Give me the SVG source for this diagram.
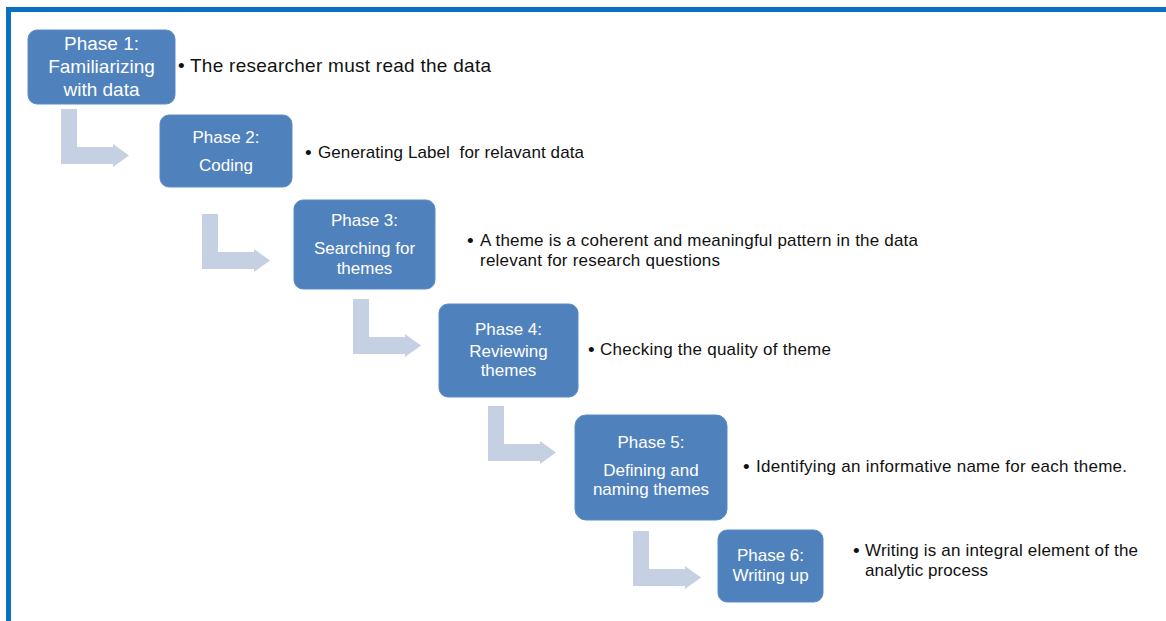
<svg xmlns="http://www.w3.org/2000/svg" width="1166" height="621" viewBox="0 0 1166 621">
  <style>
    .box { fill: #4f81bd; stroke: #5b8cc6; stroke-width: 1; }
    .boxtxt { font-family: "Liberation Sans", Arial, sans-serif; font-size: 17px; fill: #ffffff; text-anchor: middle; }
    .big { font-size: 19px; }
    .note { font-family: "Liberation Sans", Arial, sans-serif; font-size: 17px; fill: #111111; white-space: pre; }
    .note1 { font-size: 19px; }
    .dot { font-family: "Liberation Sans", Arial, sans-serif; font-size: 19px; fill: #111111; }
    .arrow { fill: #c6d0e3; }
  </style>
  <defs>
    <!-- L-shaped step arrow: down, then right -->
    <path id="step" d="M0,0 H16 V38 H52 V35 L68,46.5 L52,58 V55 H0 Z"/>
  </defs>

  <rect x="0" y="0" width="1166" height="621" fill="#ffffff"/>

  <!-- frame -->
  <g id="frame" fill="#0a70c0">
    <rect x="6" y="7" width="1160" height="5"/>
    <rect x="6" y="7" width="5" height="614"/>
  </g>

  <!-- connectors -->
  <g id="connectors" class="arrow">
    <use href="#step" x="61" y="109"/>
    <use href="#step" x="202" y="214"/>
    <use href="#step" x="353" y="299"/>
    <use href="#step" x="488" y="406"/>
    <use href="#step" x="633" y="531"/>
  </g>

  <!-- phase 1 -->
  <g id="phase1">
    <rect class="box" x="28" y="30" width="147" height="74" rx="9"/>
    <text class="boxtxt big" x="101.5" y="50">Phase 1:</text>
    <text class="boxtxt big" x="101.5" y="73">Familiarizing</text>
    <text class="boxtxt big" x="101.5" y="96">with data</text>
    <text class="dot" x="178" y="72">•</text>
    <text class="note note1" x="190" y="72" textLength="301">The researcher must read the data</text>
  </g>

  <!-- phase 2 -->
  <g id="phase2">
    <rect class="box" x="160" y="115" width="132" height="72" rx="9"/>
    <text class="boxtxt" x="226" y="143">Phase 2:</text>
    <text class="boxtxt" x="226" y="171">Coding</text>
    <text class="dot" x="305" y="159">•</text>
    <text class="note" x="318" y="158" textLength="266">Generating Label  for relavant data</text>
  </g>

  <!-- phase 3 -->
  <g id="phase3">
    <rect class="box" x="294" y="200" width="141" height="89" rx="9"/>
    <text class="boxtxt" x="364.5" y="226">Phase 3:</text>
    <text class="boxtxt" x="364.5" y="254">Searching for</text>
    <text class="boxtxt" x="364.5" y="274">themes</text>
    <text class="dot" x="467" y="247">•</text>
    <text class="note" x="480" y="246" textLength="438">A theme is a coherent and meaningful pattern in the data</text>
    <text class="note" x="480" y="266" textLength="240">relevant for research questions</text>
  </g>

  <!-- phase 4 -->
  <g id="phase4">
    <rect class="box" x="439" y="304" width="139" height="93" rx="9"/>
    <text class="boxtxt" x="508.5" y="335">Phase 4:</text>
    <text class="boxtxt" x="508.5" y="357">Reviewing</text>
    <text class="boxtxt" x="508.5" y="376">themes</text>
    <text class="dot" x="588" y="356">•</text>
    <text class="note" x="600" y="355" textLength="231">Checking the quality of theme</text>
  </g>

  <!-- phase 5 -->
  <g id="phase5">
    <rect class="box" x="575" y="415" width="152" height="105" rx="11"/>
    <text class="boxtxt" x="651" y="448">Phase 5:</text>
    <text class="boxtxt" x="651" y="476">Defining and</text>
    <text class="boxtxt" x="651" y="495">naming themes</text>
    <text class="dot" x="743" y="473">•</text>
    <text class="note" x="756" y="472" textLength="371">Identifying an informative name for each theme.</text>
  </g>

  <!-- phase 6 -->
  <g id="phase6">
    <rect class="box" x="718" y="530" width="105" height="72" rx="9"/>
    <text class="boxtxt" x="770.5" y="561">Phase 6:</text>
    <text class="boxtxt" x="770.5" y="581">Writing up</text>
    <text class="dot" x="853" y="557">•</text>
    <text class="note" x="865" y="556" textLength="273">Writing is an integral element of the</text>
    <text class="note" x="865" y="576" textLength="123">analytic process</text>
  </g>
</svg>
